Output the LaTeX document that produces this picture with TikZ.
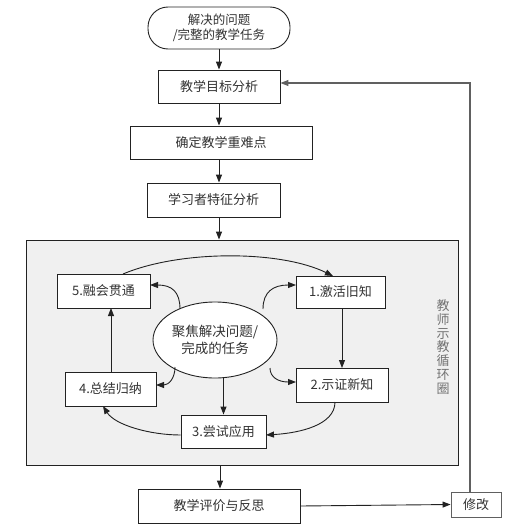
\documentclass[tikz,border=0pt]{standalone}
\usepackage{fontspec}
\setmainfont{Liberation Serif}
\newfontfamily\cjk{Noto Sans CJK SC}
\usetikzlibrary{arrows.meta,shapes.geometric}
\definecolor{txt}{HTML}{333333}
\definecolor{ln}{HTML}{222222}
\definecolor{panelfill}{HTML}{F0F0F0}
\tikzset{
  box/.style={draw=ln,line width=0.9pt,fill=white,rectangle,inner sep=0pt,
    font=\fontsize{13}{15.5}\selectfont\cjk,text=txt,align=center},
  arr/.style={draw=ln,line width=0.9pt,-{Triangle[length=8pt,width=6pt]}},
  farr/.style={draw=gray!75!black,line width=1.1pt,-{Triangle[length=8pt,width=6pt]}},
}
\begin{document}
\begin{tikzpicture}[x=1pt,y=-1pt]
\useasboundingbox (0,0) rectangle (511,530);
% panel
\node[draw=ln,line width=0.9pt,fill=panelfill,minimum width=432pt,minimum height=225pt,inner sep=0pt] (panel) at (242,352.5) {};
% top flow
\node[box,rounded corners=20pt,minimum width=142pt,minimum height=42pt,font=\fontsize{12.5}{15}\selectfont\cjk] (start) at (219,28) {解决的问题\\/完整的教学任务};
\node[box,minimum width=122pt,minimum height=33pt] (b1) at (219,86.5) {教学目标分析};
\node[box,minimum width=182pt,minimum height=33pt] (b2) at (221,142.5) {确定教学重难点};
\node[box,minimum width=133pt,minimum height=34pt] (b3) at (213.5,200) {学习者特征分析};
% inner cycle
\node[box,minimum width=93pt,minimum height=34pt] (n5) at (103.5,291) {5.{\cjk 融会贯通}};
\node[box,minimum width=89pt,minimum height=32pt] (n1) at (340.5,292) {1.{\cjk 激活旧知}};
\node[box,ellipse,inner sep=0pt,minimum width=124pt,minimum height=76pt,font=\fontsize{13.5}{17}\selectfont\cjk] (ell) at (215,340) {聚焦解决问题/\\完成的任务};
\node[box,minimum width=91pt,minimum height=34pt] (n4) at (110.5,389) {4.{\cjk 总结归纳}};
\node[box,minimum width=92pt,minimum height=34pt] (n2) at (342,385) {2.{\cjk 示证新知}};
\node[box,minimum width=85pt,minimum height=33pt] (n3) at (223.5,431.5) {3.{\cjk 尝试应用}};
\node[font=\fontsize{13}{13.8}\selectfont\cjk,text=gray!90!black,align=center] (lab) at (443,347) {教\\师\\示\\教\\循\\环\\圈};
% bottom
\node[box,minimum width=162pt,minimum height=34pt] (eval) at (219,506) {教学评价与反思};
\node[box,draw=gray!75!black,minimum width=50pt,minimum height=25pt] (fix) at (476,504.5) {修改};
% arrows top
\draw[arr] (start.south) -- (b1.north);
\draw[arr] (b1.south) -- (b1.south |- b2.north);
\draw[arr] (b1.south |- b2.south) -- (b1.south |- b3.north);
\draw[arr] (b1.south |- b3.south) -- (b1.south |- panel.north);
% cycle arrows
\draw[arr] (123,274) .. controls (180,250) and (280,250) .. (333,276);
\draw[arr] (342,308) -- (342,368);
\draw[arr] (335,402) .. controls (335,425) and (300,433) .. (266,435);
\draw[arr] (n3.west |- 0,435) .. controls (150,435) and (115,425) .. (103,406);
\draw[arr] (111,372) -- (111,308);
\draw[arr] (180,309) .. controls (180,292) and (172,285) .. (150,285);
\draw[arr] (263,309) .. controls (263,292) and (273,285) .. (296,285);
\draw[arr] (175,367) .. controls (175,378) and (169,385) .. (156,385);
\draw[arr] (270,368) .. controls (270,377) and (278,382) .. (296,382);
\draw[arr] (n3.north |- ell.south) -- (n3.north);
% bottom arrows
\draw[arr] (220,465) -- (eval.north -| 220,0);
\draw[arr] (eval.east) -- (fix.west);
\coordinate (corner) at (470,83);
\draw[farr] (fix.north -| corner) -- (corner) -- (b1.east |- corner);
\end{tikzpicture}
\end{document}
